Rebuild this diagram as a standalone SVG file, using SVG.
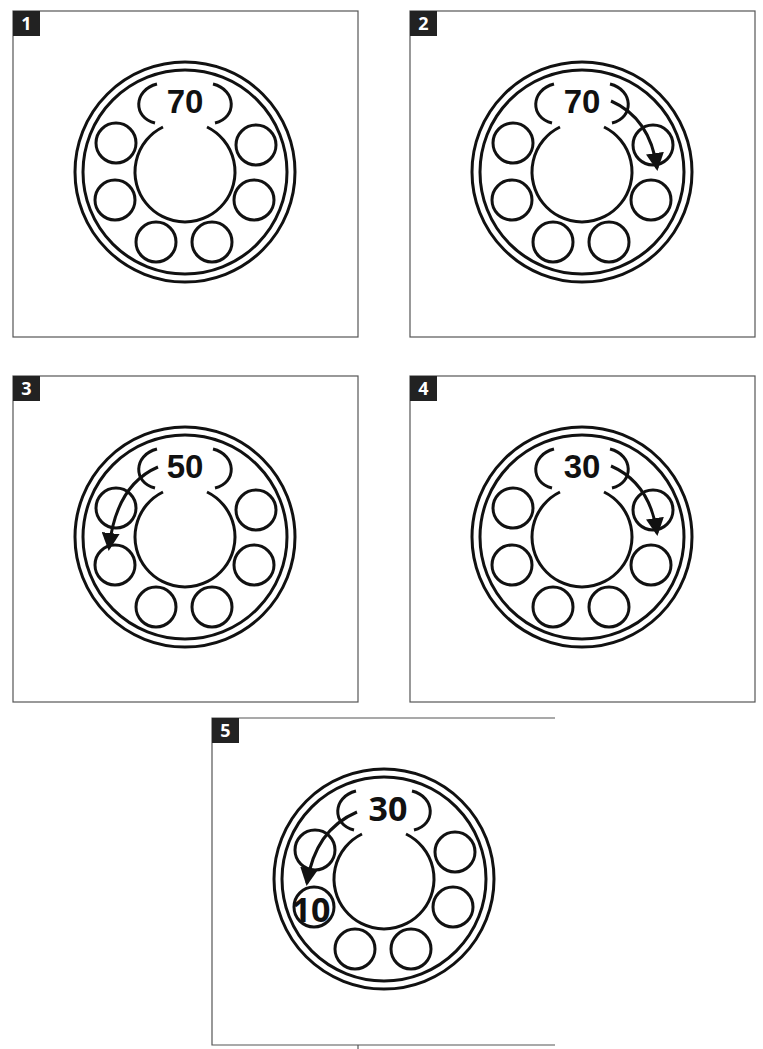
<svg xmlns="http://www.w3.org/2000/svg" xmlns:xlink="http://www.w3.org/1999/xlink" width="763" height="1049" viewBox="0 0 763 1049">
<style>
.frame{fill:none;stroke:#555;stroke-width:1.2}
.ln{fill:none;stroke:#111;stroke-width:3}
.tag{fill:#222}
.tagt{fill:#fff;font-family:"Open Sans",sans-serif;font-weight:bold;font-size:18px;text-anchor:middle}
.num{fill:#111;font-family:"Liberation Sans",sans-serif;font-weight:bold;font-size:33px;text-anchor:middle}
.num5{fill:#111;font-family:"Open Sans",sans-serif;font-weight:bold;font-size:34px;text-anchor:middle}
</style>
<defs>
<marker id="ah" markerWidth="6" markerHeight="6" refX="5" refY="3" orient="auto" markerUnits="strokeWidth"><path d="M0,0 L6,3 L0,6 z" fill="#111"/></marker>
<g id="dial">
<circle class="ln" cx="185" cy="172" r="110"/>
<circle class="ln" cx="185" cy="172" r="102"/>
<path class="ln" d="M163,127 A50,50 0 1 0 207,127"/>
<path class="ln" d="M157,84 C133,90 133,118 155,123"/>
<path class="ln" d="M213,84 C237,90 237,118 215,123"/>
<circle class="ln" cx="116" cy="143" r="20"/>
<circle class="ln" cx="115" cy="200" r="20"/>
<circle class="ln" cx="156" cy="242" r="20"/>
<circle class="ln" cx="212" cy="242" r="20"/>
<circle class="ln" cx="256" cy="145" r="20"/>
<circle class="ln" cx="254" cy="200" r="20"/>
</g>
</defs>
<g id="panel1">
<rect class="frame" x="13" y="11" width="345" height="326"/>
<rect class="tag" x="13" y="11" width="27" height="25"/><text class="tagt" x="26.5" y="30">1</text>
<use xlink:href="#dial"/>
<text class="num" x="185" y="113">70</text>
</g>
<g id="panel2" transform="translate(397,0)">
<rect class="frame" x="13" y="11" width="345" height="326"/>
<rect class="tag" x="13" y="11" width="27" height="25"/><text class="tagt" x="26.5" y="30">2</text>
<use xlink:href="#dial"/>
<text class="num" x="185" y="113">70</text>
</g>
<g id="panel3" transform="translate(0,365)">
<rect class="frame" x="13" y="11" width="345" height="326"/>
<rect class="tag" x="13" y="11" width="27" height="25"/><text class="tagt" x="26.5" y="30">3</text>
<use xlink:href="#dial"/>
<text class="num" x="185" y="113">50</text>
</g>
<g id="panel4" transform="translate(397,365)">
<rect class="frame" x="13" y="11" width="345" height="326"/>
<rect class="tag" x="13" y="11" width="27" height="25"/><text class="tagt" x="26.5" y="30">4</text>
<use xlink:href="#dial"/>
<text class="num" x="185" y="113">30</text>
</g>
<g id="panel5" transform="translate(199,707)">
<path class="frame" d="M356,11 L13,11 L13,338 L356,338"/>
<line class="frame" x1="159" y1="338" x2="159" y2="342"/>
<rect class="tag" x="13" y="11" width="27" height="25"/><text class="tagt" x="26.5" y="30">5</text>
<use xlink:href="#dial"/>
<text class="num5" x="189" y="114">30</text>
<text class="num5" x="112" y="215">10</text>
</g>
<g id="connectors">
<path class="ln" d="M611,101 Q650,118 657,168" marker-end="url(#ah)"/>
<path class="ln" d="M158,467 Q116,485 109,548" marker-end="url(#ah)"/>
<path class="ln" d="M611,466 Q650,483 657,533" marker-end="url(#ah)"/>
<path class="ln" d="M357,812 Q315,830 307,883" marker-end="url(#ah)"/>
</g>
</svg>
